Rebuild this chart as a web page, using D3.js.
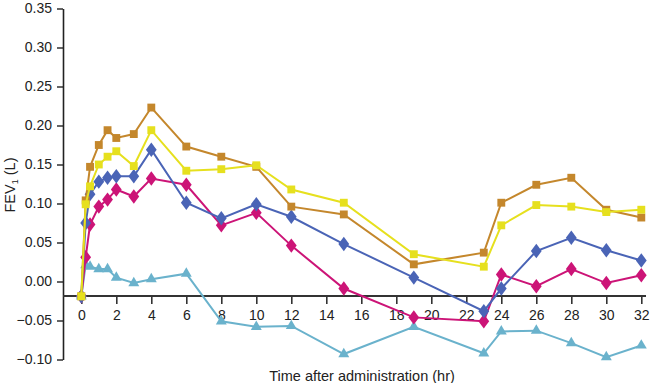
<!DOCTYPE html>
<html>
<head>
<meta charset="utf-8">
<script src="https://cdn.jsdelivr.net/npm/d3@7"></script>
<style>
  body { margin: 0; background: #fff; }
  text { font-family: "Liberation Sans", Arial, sans-serif; }
</style>
</head>
<body>
<div id="chart"></div>
<script>
// time points (hr)
const hours = [0, 0.25, 0.5, 1, 1.5, 2, 3, 4, 6, 8, 10, 12, 15, 19, 23, 24, 26, 28, 30, 32];

// FEV1 change (L) per series
const brownVals   = [-0.019, 0.104, 0.147, 0.175, 0.194, 0.184, 0.189, 0.223, 0.173, 0.160, 0.147, 0.096, 0.086, 0.022, 0.037, 0.101, 0.124, 0.133, 0.092, 0.082];
const yellowVals  = [-0.019, 0.099, 0.122, 0.150, 0.160, 0.167, 0.148, 0.194, 0.142, 0.144, 0.149, 0.118, 0.101, 0.035, 0.019, 0.072, 0.098, 0.096, 0.089, 0.092];
const blueVals    = [-0.019, 0.075, 0.112, 0.128, 0.133, 0.135, 0.135, 0.169, 0.101, 0.081, 0.099, 0.083, 0.048, 0.005, -0.038, -0.009, 0.039, 0.056, 0.040, 0.027];
const magentaVals = [-0.019, 0.031, 0.073, 0.096, 0.105, 0.118, 0.109, 0.132, 0.124, 0.072, 0.088, 0.046, -0.009, -0.046, -0.051, 0.009, -0.006, 0.016, -0.002, 0.008];
const cyanVals    = [-0.019, 0.021, 0.019, 0.016, 0.016, 0.005, -0.002, 0.003, 0.010, -0.051, -0.058, -0.057, -0.093, -0.058, -0.092, -0.064, -0.063, -0.079, -0.097, -0.082];

const xTicks = d3.range(0, 33, 2);
const yTicks = [-0.10, -0.05, 0.00, 0.05, 0.10, 0.15, 0.20, 0.25, 0.30, 0.35];

const width = 650, height = 383;

const svg = d3.select("#chart")
    .append("svg")
    .attr("width", width)
    .attr("height", height);

const x = d3.scaleLinear().domain([0, 32]).range([81.3, 641.3]);
const y = d3.scaleLinear().domain([-0.10, 0.35]).range([359.5, 8.5]);
const axisX = 63;
const baseY = y(-0.0186);

// Y axis
const yAxis = svg.append("g")
    .attr("transform", `translate(${axisX},0)`)
    .call(d3.axisLeft(y).tickValues(yTicks).tickFormat(d3.format(".2f")).tickSize(6).tickSizeOuter(0).tickPadding(5));
yAxis.select(".domain").attr("stroke", "#222").attr("stroke-width", 1.6);
yAxis.selectAll(".tick line").attr("stroke", "#222").attr("stroke-width", 1.4);
yAxis.selectAll(".tick text").attr("font-size", 14).attr("fill", "#222")
    .style("font-family", "'Liberation Sans', Arial, sans-serif");

// X axis placed at the baseline
const xAxis = svg.append("g")
    .attr("transform", `translate(0,${baseY})`)
    .call(d3.axisBottom(x).tickValues(xTicks).tickSize(8).tickSizeOuter(0).tickPadding(6));
xAxis.select(".domain").attr("d", `M${axisX},0H646`).attr("stroke", "#333").attr("stroke-width", 2);
xAxis.selectAll(".tick line").attr("stroke", "#333").attr("stroke-width", 1.6);
xAxis.selectAll(".tick text").attr("font-size", 14).attr("fill", "#222")
    .style("font-family", "'Liberation Sans', Arial, sans-serif");

// axis titles
svg.append("text")
    .attr("x", 362).attr("y", 381)
    .attr("text-anchor", "middle")
    .attr("font-size", 14.5).attr("fill", "#222")
    .text("Time after administration (hr)");

const yTitle = svg.append("text")
    .attr("transform", "translate(15,185) rotate(-90)")
    .attr("text-anchor", "middle")
    .attr("font-size", 14.5).attr("fill", "#222");
yTitle.append("tspan").text("FEV");
yTitle.append("tspan").attr("font-size", 9).attr("dy", 3).text("1");
yTitle.append("tspan").attr("dy", -3).text(" (L)");

const series = [
    {vals: cyanVals,    color: "#6ab2cc", symbol: d3.symbolTriangle, size: 52, sx: 1},
    {vals: magentaVals, color: "#cc1477", symbol: d3.symbolDiamond,  size: 60, sx: 1.3},
    {vals: blueVals,    color: "#4a64b6", symbol: d3.symbolDiamond,  size: 60, sx: 1.3},
    {vals: brownVals,   color: "#c4872c", symbol: d3.symbolSquare,   size: 62, sx: 1},
    {vals: yellowVals,  color: "#e6e01e", symbol: d3.symbolSquare,   size: 62, sx: 1}
];

const line = d3.line()
    .x(d => x(d[0]))
    .y(d => y(d[1]));

series.forEach(s => {
    const pts = hours.map((h, i) => [h, s.vals[i]]);
    const g = svg.append("g");
    g.append("path")
        .datum(pts)
        .attr("fill", "none")
        .attr("stroke", s.color)
        .attr("stroke-width", 2)
        .attr("d", line);
    g.selectAll("path.pt")
        .data(pts)
        .join("path")
        .attr("class", "pt")
        .attr("transform", d => `translate(${x(d[0])},${y(d[1])}) scale(${s.sx},1)`)
        .attr("d", d3.symbol().type(s.symbol).size(s.size))
        .attr("fill", s.color);
});
</script>
</body>
</html>
